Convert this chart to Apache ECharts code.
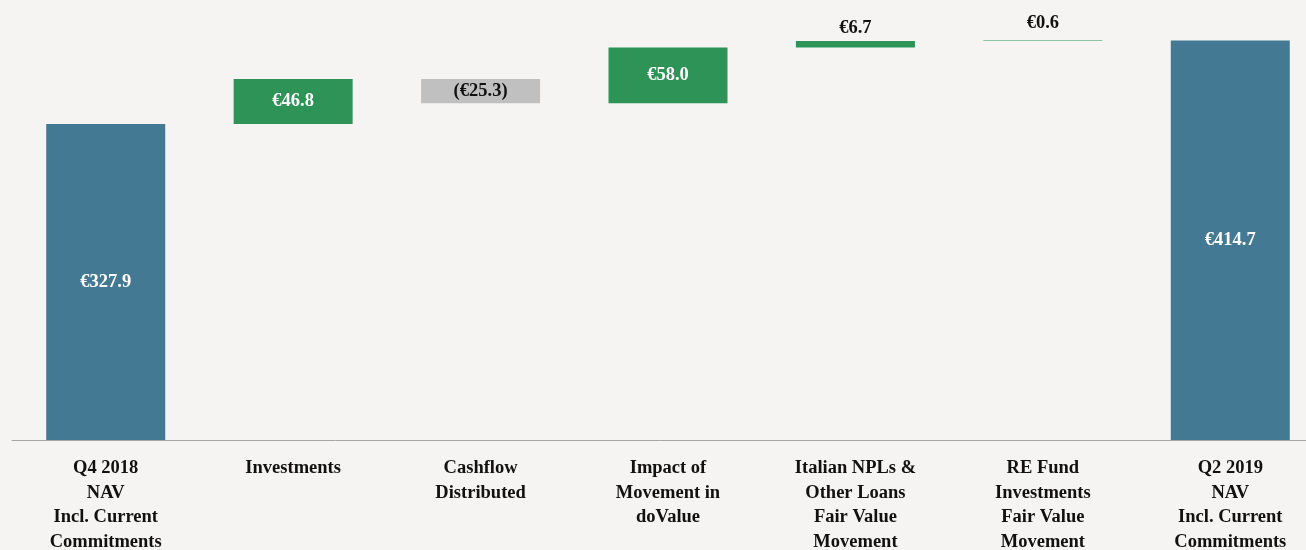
<!DOCTYPE html>
<html>
<head>
<meta charset="utf-8">
<script src="https://cdn.jsdelivr.net/npm/echarts@6/dist/echarts.min.js"></script>
<style>
  html, body { margin: 0; padding: 0; background: #f5f4f2; }
  #main { width: 1306px; height: 550px; }
</style>
</head>
<body>
<div id="main"></div>
<script>
// categories + movements (EUR m)
const categories = [
    'Q4 2018\nNAV\nIncl. Current\nCommitments',
    'Investments',
    'Cashflow\nDistributed',
    'Impact of\nMovement in\ndoValue',
    'Italian NPLs &\nOther Loans\nFair Value\nMovement',
    'RE Fund\nInvestments\nFair Value\nMovement',
    'Q2 2019\nNAV\nIncl. Current\nCommitments'
];
const values = [327.9, 46.8, -25.3, 58.0, 6.7, 0.6, 414.7];
const isTotal = [true, false, false, false, false, false, true];
const valueLabels = ['€327.9', '€46.8', '(€25.3)', '€58.0', '€6.7', '€0.6', '€414.7'];

const BLUE = '#447994';
const GREEN = '#2e9356';
const GREY = '#c0c0c0';

// build invisible base + visible step for the waterfall
const base = [];
const step = [];
let running = 0;
values.forEach((v, i) => {
    if (isTotal[i]) {
        base.push(0);
        step.push(v);
        running = v;
    } else if (v >= 0) {
        base.push(running);
        step.push(v);
        running += v;
    } else {
        running += v;
        base.push(running);
        step.push(-v);
    }
});

const stepData = step.map((v, i) => {
    let color = isTotal[i] ? BLUE : (values[i] < 0 ? GREY : GREEN);
    let label = { show: true, position: 'inside', color: '#ffffff' };
    if (values[i] < 0) label.color = '#111111';
    if (!isTotal[i] && Math.abs(values[i]) < 10) {
        label = { show: true, position: 'top', color: '#111111', distance: values[i] < 1 ? 8 : 3 };
    }
    return { value: v, itemStyle: { color: color }, label: label };
});

const chart = echarts.init(document.getElementById('main'));
chart.setOption({
    backgroundColor: '#f5f4f2',
    animation: false,
    grid: { left: 12, top: 0, width: 1312, height: 440, outerBoundsMode: 'none', containLabel: false },
    xAxis: {
        type: 'category',
        data: categories,
        axisLine: { lineStyle: { color: '#a6a6a6', width: 1 } },
        axisTick: { show: false },
        axisLabel: {
            interval: 0,
            margin: 16,
            color: '#111111',
            fontFamily: 'Liberation Serif',
            fontWeight: 'bold',
            fontSize: 18.5,
            lineHeight: 24.5
        }
    },
    yAxis: {
        type: 'value',
        min: 0,
        max: 456.6,
        show: false,
        splitLine: { show: false }
    },
    series: [
        {
            name: 'base',
            type: 'bar',
            stack: 'wf',
            barWidth: 119,
            itemStyle: { color: 'transparent' },
            emphasis: { disabled: true },
            data: base
        },
        {
            name: 'step',
            type: 'bar',
            stack: 'wf',
            barWidth: 119,
            label: {
                fontFamily: 'Liberation Serif',
                fontWeight: 'bold',
                fontSize: 18.5,
                formatter: p => valueLabels[p.dataIndex]
            },
            data: stepData
        }
    ]
});
</script>
</body>
</html>
